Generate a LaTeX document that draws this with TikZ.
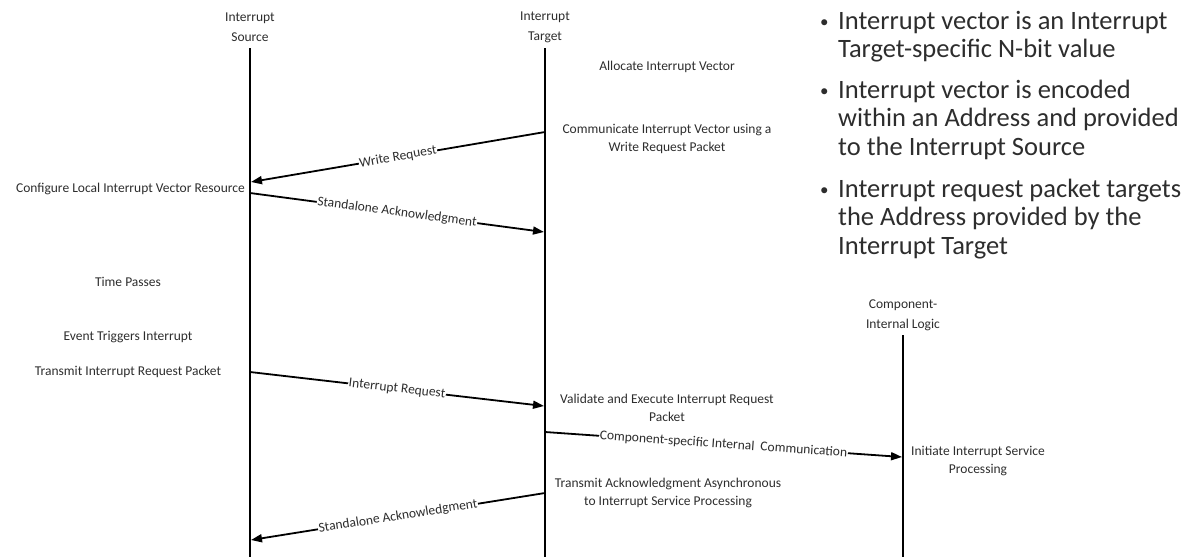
\documentclass[tikz,border=0pt]{standalone}
\usepackage{fontspec}
\setmainfont{Carlito}
\usepackage{tikz}
\usetikzlibrary{arrows.meta}
\definecolor{txtgray}{RGB}{45,45,45}
\tikzset{
	lifeline/.style={line width=1.7pt},
	msg/.style={line width=1.8pt,-{Triangle[length=11pt,width=8pt]}},
	msglbl/.style={sloped,fill=white,inner sep=0.6pt,font=\fontsize{13.5}{15}\selectfont,text=txtgray},
	lbl/.style={inner sep=0pt,font=\fontsize{13.5}{18.5}\selectfont,text=txtgray,align=center},
	hdr/.style={inner sep=0pt,font=\fontsize{13.5}{20}\selectfont,text=txtgray,align=center},
	bulletbox/.style={inner sep=0pt,anchor=base west,font=\fontsize{26.5}{28.5}\selectfont,text=txtgray}
}
\newcommand{\bulletrows}[1]{\begin{tabular}[t]{@{}p{20pt}@{}l@{}}#1\end{tabular}}
\newcommand{\dotmark}{\hspace*{2pt}{\fontsize{17}{17}\selectfont\raisebox{1.5pt}{\textbullet}}}

\begin{document}
\begin{tikzpicture}[x=1pt,y=-1pt]
		\useasboundingbox (0,0) rectangle (1197,557);
		% participants
		\node[hdr] (hdr-src) at (250,27) {Interrupt\\Source};
		\node[hdr] (hdr-tgt) at (545,27) {Interrupt\\Target};
		\node[hdr] (hdr-cmp) at (903,315) {Component-\\Internal Logic};
		\coordinate (src-top) at (250,48);
		\coordinate (src-bot) at (250,557);
		\coordinate (tgt-top) at (545,48);
		\coordinate (tgt-bot) at (545,557);
		\coordinate (cmp-top) at (903,335);
		\coordinate (cmp-bot) at (903,557);
		\draw[lifeline] (src-top) -- (src-bot);
		\draw[lifeline] (tgt-top) -- (tgt-bot);
		\draw[lifeline] (cmp-top) -- (cmp-bot);
		% message end points
		\coordinate (wr-a) at (545,132);
		\coordinate (wr-b) at (251,182);
		\coordinate (ack1-a) at (250,193);
		\coordinate (ack1-b) at (544,232);
		\coordinate (irq-a) at (250,372);
		\coordinate (irq-b) at (544,406);
		\coordinate (cic-a) at (545,432);
		\coordinate (cic-b) at (902,457);
		\coordinate (ack2-a) at (545,493);
		\coordinate (ack2-b) at (251,540);
		% messages
		\draw[msg] (wr-a) -- node[msglbl] (wr-lbl) {Write Request} (wr-b);
		\draw[msg] (ack1-a) -- node[msglbl] (ack1-lbl) {Standalone Acknowledgment} (ack1-b);
		\draw[msg] (irq-a) -- node[msglbl] (irq-lbl) {Interrupt Request} (irq-b);
		\draw[msg] (cic-a) -- node[msglbl] (cic-lbl) {Component-specific Internal\ \ Communication} (cic-b);
		\draw[msg] (ack2-a) -- node[msglbl] (ack2-lbl) {Standalone Acknowledgment} (ack2-b);
		% actions
		\node[lbl] (alloc) at (667,67) {Allocate Interrupt Vector};
		\node[lbl] (comm) at (667,139) {Communicate Interrupt Vector using a\\Write Request Packet};
		\node[lbl,anchor=base east] (config) at (245,192) {Configure Local Interrupt Vector Resource};
		\node[lbl] (time) at (128,282) {Time Passes};
		\node[lbl] (event) at (128,337) {Event Triggers Interrupt};
		\node[lbl] (xmit) at (128,372) {Transmit Interrupt Request Packet};
		\node[lbl] (valid) at (667,408) {Validate and Execute Interrupt Request\\Packet};
		\node[lbl] (init) at (978,461) {Initiate Interrupt Service\\Processing};
		\node[lbl] (xack) at (668,493) {Transmit Acknowledgment Asynchronous\\to Interrupt Service Processing};
		% notes
		\node[bulletbox] (note1) at (818,29) {\bulletrows{\dotmark & Interrupt vector is an Interrupt\\ & Target-specific N-bit value}};
		\node[bulletbox] (note2) at (818,98) {\bulletrows{\dotmark & Interrupt vector is encoded\\ & within an Address and provided\\ & to the Interrupt Source}};
		\node[bulletbox] (note3) at (818,197) {\bulletrows{\dotmark & Interrupt request packet targets\\ & the Address provided by the\\ & Interrupt Target}};
\end{tikzpicture}
\end{document}
